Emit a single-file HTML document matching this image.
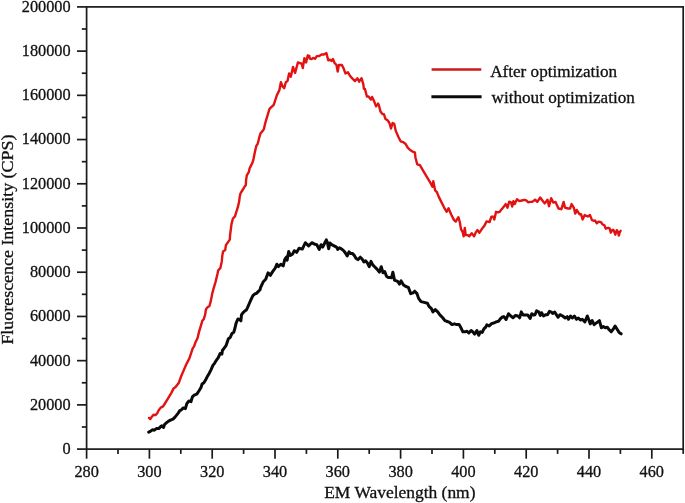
<!DOCTYPE html>
<html><head><meta charset="utf-8"><style>
html,body{margin:0;padding:0;background:#fff;}
body{width:685px;height:503px;overflow:hidden;}
svg{display:block;font-family:"Liberation Serif",serif;}
text{filter:grayscale(1);stroke:#111;stroke-width:0.3px;}
</style></head><body>
<svg width="685" height="503" viewBox="0 0 685 503">
<rect x="0" y="0" width="685" height="503" fill="#fff"/>
<g stroke="#1a1a1a" stroke-width="1.7" fill="none">
<rect x="86.60" y="6.90" width="596.60" height="442.20"/>
<line x1="86.60" y1="449.10" x2="86.60" y2="458.70"/><line x1="118.00" y1="449.10" x2="118.00" y2="453.90"/><line x1="149.40" y1="449.10" x2="149.40" y2="458.70"/><line x1="180.80" y1="449.10" x2="180.80" y2="453.90"/><line x1="212.20" y1="449.10" x2="212.20" y2="458.70"/><line x1="243.60" y1="449.10" x2="243.60" y2="453.90"/><line x1="275.00" y1="449.10" x2="275.00" y2="458.70"/><line x1="306.40" y1="449.10" x2="306.40" y2="453.90"/><line x1="337.80" y1="449.10" x2="337.80" y2="458.70"/><line x1="369.20" y1="449.10" x2="369.20" y2="453.90"/><line x1="400.60" y1="449.10" x2="400.60" y2="458.70"/><line x1="432.00" y1="449.10" x2="432.00" y2="453.90"/><line x1="463.40" y1="449.10" x2="463.40" y2="458.70"/><line x1="494.80" y1="449.10" x2="494.80" y2="453.90"/><line x1="526.20" y1="449.10" x2="526.20" y2="458.70"/><line x1="557.60" y1="449.10" x2="557.60" y2="453.90"/><line x1="589.00" y1="449.10" x2="589.00" y2="458.70"/><line x1="620.40" y1="449.10" x2="620.40" y2="453.90"/><line x1="651.80" y1="449.10" x2="651.80" y2="458.70"/><line x1="683.20" y1="449.10" x2="683.20" y2="453.90"/><line x1="77.00" y1="449.10" x2="86.60" y2="449.10"/><line x1="81.80" y1="426.99" x2="86.60" y2="426.99"/><line x1="77.00" y1="404.88" x2="86.60" y2="404.88"/><line x1="81.80" y1="382.77" x2="86.60" y2="382.77"/><line x1="77.00" y1="360.66" x2="86.60" y2="360.66"/><line x1="81.80" y1="338.55" x2="86.60" y2="338.55"/><line x1="77.00" y1="316.44" x2="86.60" y2="316.44"/><line x1="81.80" y1="294.33" x2="86.60" y2="294.33"/><line x1="77.00" y1="272.22" x2="86.60" y2="272.22"/><line x1="81.80" y1="250.11" x2="86.60" y2="250.11"/><line x1="77.00" y1="228.00" x2="86.60" y2="228.00"/><line x1="81.80" y1="205.89" x2="86.60" y2="205.89"/><line x1="77.00" y1="183.78" x2="86.60" y2="183.78"/><line x1="81.80" y1="161.67" x2="86.60" y2="161.67"/><line x1="77.00" y1="139.56" x2="86.60" y2="139.56"/><line x1="81.80" y1="117.45" x2="86.60" y2="117.45"/><line x1="77.00" y1="95.34" x2="86.60" y2="95.34"/><line x1="81.80" y1="73.23" x2="86.60" y2="73.23"/><line x1="77.00" y1="51.12" x2="86.60" y2="51.12"/><line x1="81.80" y1="29.01" x2="86.60" y2="29.01"/><line x1="77.00" y1="6.90" x2="86.60" y2="6.90"/>
</g>
<g font-size="16.3" fill="#111">
<text x="86.60" y="477.0" text-anchor="middle">280</text><text x="149.40" y="477.0" text-anchor="middle">300</text><text x="212.20" y="477.0" text-anchor="middle">320</text><text x="275.00" y="477.0" text-anchor="middle">340</text><text x="337.80" y="477.0" text-anchor="middle">360</text><text x="400.60" y="477.0" text-anchor="middle">380</text><text x="463.40" y="477.0" text-anchor="middle">400</text><text x="526.20" y="477.0" text-anchor="middle">420</text><text x="589.00" y="477.0" text-anchor="middle">440</text><text x="651.80" y="477.0" text-anchor="middle">460</text>
<text x="70.6" y="454.00" text-anchor="end">0</text><text x="70.6" y="409.78" text-anchor="end">20000</text><text x="70.6" y="365.56" text-anchor="end">40000</text><text x="70.6" y="321.34" text-anchor="end">60000</text><text x="70.6" y="277.12" text-anchor="end">80000</text><text x="70.6" y="232.90" text-anchor="end">100000</text><text x="70.6" y="188.68" text-anchor="end">120000</text><text x="70.6" y="144.46" text-anchor="end">140000</text><text x="70.6" y="100.24" text-anchor="end">160000</text><text x="70.6" y="56.02" text-anchor="end">180000</text><text x="70.6" y="11.80" text-anchor="end">200000</text>
</g>
<text x="324.2" y="498.3" font-size="16.6" fill="#111" textLength="151.3" lengthAdjust="spacingAndGlyphs">EM Wavelength (nm)</text>
<text transform="translate(13.2,344.6) rotate(-90)" font-size="16.6" fill="#111" textLength="210" lengthAdjust="spacingAndGlyphs">Fluorescence Intensity (CPS)</text>
<path d="M149.1,417.9 L150.3,419.1 L151.9,416.7 L153.5,414.7 L155.5,415.1 L157.1,413.5 L158.7,410.3 L160.7,407.6 L163.1,406.4 L165.2,403.0 L167.3,399.6 L169.4,396.1 L171.5,392.6 L173.6,388.4 L175.6,387.0 L177.7,384.2 L179.1,382.2 L180.5,378.0 L181.9,374.5 L184.0,369.6 L186.1,364.7 L188.2,360.6 L189.2,358.9 L191.3,352.6 L192.7,348.4 L194.1,346.4 L195.5,342.2 L197.5,338.3 L198.9,332.4 L200.3,327.6 L202.4,320.6 L203.8,319.2 L205.2,314.4 L205.9,309.5 L207.3,307.4 L209.4,306.0 L210.8,301.1 L212.0,294.7 L213.4,289.1 L215.5,282.1 L217.5,273.8 L218.2,270.3 L220.3,268.2 L221.7,261.9 L222.4,255.0 L223.1,251.5 L225.2,250.1 L225.9,245.2 L227.3,243.1 L229.8,239.6 L230.1,234.8 L230.8,229.5 L231.5,224.1 L232.9,218.5 L235.0,216.4 L236.4,211.6 L237.8,207.4 L239.1,201.8 L239.8,196.2 L240.5,193.4 L242.6,190.0 L244.7,186.5 L245.8,185.1 L246.1,180.2 L246.8,175.3 L248.9,171.8 L249.6,168.4 L251.0,165.6 L252.4,162.8 L253.5,159.1 L254.9,152.1 L256.3,145.9 L257.7,143.8 L259.1,138.2 L260.5,133.3 L262.5,131.2 L263.9,129.1 L265.3,122.9 L267.4,115.9 L269.5,108.9 L271.6,106.8 L273.7,104.8 L275.1,100.6 L276.5,96.4 L277.1,94.7 L279.3,90.4 L280.9,82.2 L282.6,86.5 L284.2,88.2 L285.8,82.2 L287.5,81.1 L289.1,73.4 L290.8,76.7 L293.0,66.9 L295.1,72.9 L297.9,62.5 L299.5,63.0 L301.7,63.6 L302.8,68.0 L304.4,58.1 L306.1,62.5 L307.7,55.4 L309.3,55.9 L309.7,58.5 L311.5,59.1 L313.2,57.9 L315.0,58.8 L316.8,56.1 L319.2,56.1 L321.6,54.5 L324.0,54.5 L326.4,53.1 L328.2,60.3 L329.9,59.7 L331.7,60.9 L332.9,59.1 L334.7,63.2 L336.5,65.0 L337.7,71.6 L338.9,65.0 L341.9,65.0 L343.7,68.6 L345.4,73.4 L347.8,72.2 L349.6,75.2 L352.0,78.2 L355.0,81.1 L357.4,78.2 L359.2,81.7 L361.5,78.2 L363.3,84.1 L363.9,88.9 L364.9,88.9 L366.9,96.5 L368.5,96.5 L370.9,99.6 L372.1,96.9 L374.1,101.2 L376.1,106.4 L378.1,103.6 L378.9,105.2 L380.5,111.6 L382.4,114.0 L383.9,114.2 L385.5,119.0 L387.9,120.6 L389.4,123.0 L391.0,128.5 L392.6,123.0 L394.2,123.8 L395.8,130.9 L398.2,136.5 L400.6,141.3 L403.0,142.1 L405.4,143.7 L407.7,147.6 L410.1,150.0 L412.5,151.6 L414.9,152.4 L415.4,157.2 L417.2,164.3 L419.9,165.2 L422.5,169.7 L425.2,174.2 L427.9,178.7 L430.6,183.1 L432.4,186.7 L433.3,181.3 L435.1,190.3 L436.9,192.1 L438.7,196.6 L441.3,201.9 L444.0,207.3 L446.7,211.8 L448.5,208.2 L451.2,214.5 L453.9,219.9 L455.7,221.6 L458.4,217.2 L459.8,222.0 L461.0,229.1 L462.7,232.1 L463.6,236.3 L464.8,227.9 L465.7,235.1 L467.5,235.1 L469.3,236.3 L471.7,233.3 L474.1,236.3 L475.9,232.1 L477.4,230.1 L479.4,232.7 L481.8,229.1 L484.2,226.1 L486.6,221.4 L489.6,222.0 L491.4,216.6 L493.2,216.6 L494.3,219.6 L496.1,211.8 L497.9,212.4 L499.7,211.8 L501.5,209.4 L503.9,206.5 L505.7,204.1 L507.5,207.7 L509.2,201.7 L511.0,202.3 L512.2,206.5 L513.4,201.1 L514.6,204.1 L517.0,199.3 L519.4,201.1 L521.8,200.5 L524.2,199.9 L526.5,200.5 L528.3,202.3 L530.0,201.9 L532.2,201.9 L535.1,199.7 L537.3,201.9 L540.2,197.5 L542.4,200.4 L544.6,203.4 L547.5,199.7 L549.0,206.3 L551.2,198.2 L553.4,202.6 L555.5,201.9 L558.5,208.5 L561.4,209.2 L563.6,201.9 L565.0,207.7 L568.0,208.5 L570.1,208.5 L571.6,204.1 L573.8,207.7 L575.3,213.6 L576.7,209.9 L579.6,214.3 L581.1,214.3 L582.6,219.4 L584.7,215.0 L587.7,216.5 L589.9,215.0 L592.0,220.1 L594.2,220.9 L595.0,220.4 L596.8,223.3 L598.6,221.6 L601.0,222.2 L602.7,224.5 L604.5,225.4 L605.7,228.7 L608.1,227.8 L609.6,228.4 L610.8,232.6 L612.3,229.9 L613.5,229.9 L615.3,234.7 L616.8,230.2 L618.0,232.0 L618.8,235.6 L619.7,232.3 L620.6,230.8" fill="none" stroke="#e31212" stroke-width="2.4" stroke-linejoin="round" stroke-linecap="round"/>
<path d="M148.7,432.2 L150.3,431.4 L152.3,429.8 L154.3,430.2 L156.3,428.6 L158.7,428.6 L160.7,426.6 L161.9,425.8 L163.5,427.4 L164.7,424.3 L166.6,422.7 L168.6,421.1 L171.0,419.9 L173.0,419.1 L175.0,417.1 L176.6,415.1 L178.2,413.1 L179.8,410.7 L181.2,410.0 L183.3,407.9 L185.4,408.6 L186.8,403.7 L188.9,401.0 L191.0,401.7 L192.4,396.8 L194.2,395.2 L196.8,394.1 L199.2,390.5 L201.0,387.5 L202.1,384.0 L203.9,382.8 L205.7,379.8 L207.5,376.2 L209.3,373.2 L211.1,369.6 L212.9,365.4 L214.7,363.1 L216.5,360.1 L218.3,357.7 L220.1,353.5 L221.9,354.1 L222.4,350.5 L224.2,348.1 L226.0,345.7 L227.2,342.2 L228.4,338.7 L230.2,337.5 L232.0,333.4 L233.8,332.2 L235.0,328.0 L236.1,323.2 L237.9,319.0 L239.7,319.6 L240.9,320.8 L241.5,314.9 L242.7,313.1 L244.5,311.3 L246.3,310.1 L247.5,307.7 L249.3,303.5 L251.1,299.3 L252.9,295.7 L254.7,294.0 L256.4,293.4 L258.2,291.6 L260.0,289.8 L260.6,287.4 L261.8,285.0 L263.3,281.7 L265.7,279.3 L268.1,272.9 L270.4,275.3 L272.8,271.4 L275.2,268.2 L276.8,264.2 L278.4,266.6 L280.8,264.2 L283.2,265.8 L284.8,259.4 L286.4,257.0 L287.1,260.2 L288.7,251.5 L290.3,255.4 L292.7,253.9 L294.3,250.7 L296.7,252.3 L299.1,248.3 L302.3,249.1 L305.4,242.7 L308.6,245.9 L311.8,242.7 L315.0,244.3 L316.8,244.7 L319.2,249.4 L321.0,244.7 L322.7,247.1 L324.5,243.5 L326.3,239.9 L327.5,242.9 L328.7,248.8 L329.9,242.9 L331.7,244.7 L334.1,245.9 L336.5,247.1 L337.7,249.4 L339.4,247.7 L341.2,248.8 L343.6,250.6 L345.4,253.0 L347.2,256.0 L349.0,251.8 L350.8,253.6 L352.6,253.6 L354.3,255.4 L356.1,258.4 L357.9,259.6 L360.3,257.2 L362.1,259.0 L363.9,262.0 L365.7,260.8 L367.5,263.2 L369.2,266.7 L371.0,261.4 L372.8,264.9 L374.6,266.7 L377.0,269.1 L379.4,272.1 L381.2,266.7 L383.0,272.7 L384.7,271.5 L386.5,276.3 L388.3,277.5 L390.1,277.5 L391.6,277.7 L392.9,272.2 L394.5,280.1 L396.4,280.9 L398.0,281.7 L399.5,284.1 L401.1,280.9 L403.5,284.9 L405.9,286.5 L408.3,287.3 L410.7,293.6 L413.1,292.8 L414.7,291.2 L417.0,293.6 L418.6,298.4 L421.0,301.6 L424.2,302.4 L427.4,303.2 L429.0,306.4 L431.4,308.7 L432.9,311.9 L435.3,309.5 L437.7,311.9 L440.1,315.1 L442.5,317.5 L444.9,320.7 L447.3,321.5 L449.6,322.3 L452.0,324.6 L454.4,323.8 L456.8,324.6 L459.2,324.6 L461.2,328.3 L462.9,331.8 L465.3,331.8 L467.0,331.2 L468.8,333.0 L471.1,330.6 L472.8,331.8 L474.6,334.1 L476.9,330.6 L478.7,335.3 L480.4,331.8 L482.2,332.4 L483.9,328.9 L485.7,327.1 L486.9,324.8 L489.2,326.0 L491.5,323.6 L493.9,323.0 L496.2,321.9 L498.5,321.3 L500.3,318.9 L502.0,317.2 L503.8,316.6 L506.1,319.5 L508.5,313.7 L510.8,316.0 L513.1,317.8 L515.5,315.4 L517.8,316.0 L519.6,317.8 L521.3,311.9 L523.1,314.9 L525.4,314.9 L527.7,314.9 L530.1,318.4 L531.8,313.7 L533.6,314.9 L535.0,314.7 L536.6,310.8 L538.9,312.1 L540.3,315.4 L541.6,312.7 L543.5,316.0 L545.5,314.7 L547.5,314.7 L549.5,311.4 L551.4,312.1 L552.7,313.4 L554.7,312.1 L556.0,314.1 L558.0,317.3 L560.0,314.7 L562.6,316.0 L565.2,318.0 L567.2,316.7 L568.5,319.3 L570.5,316.0 L572.4,318.0 L574.4,316.0 L576.4,319.3 L578.4,318.0 L580.3,320.0 L582.3,319.3 L584.9,321.9 L587.3,316.0 L588.9,320.0 L590.2,323.9 L592.2,320.6 L594.1,324.6 L596.8,322.6 L599.4,320.6 L601.4,327.8 L603.3,326.5 L605.3,327.8 L607.3,327.2 L609.2,329.8 L611.2,331.8 L613.2,329.2 L615.1,326.0 L617.1,329.2 L619.1,332.4 L621.1,333.8" fill="none" stroke="#0a0a0a" stroke-width="3.0" stroke-linejoin="round" stroke-linecap="round"/>
<line x1="431.6" y1="69.5" x2="481.3" y2="69.5" stroke="#d01818" stroke-width="2.4"/>
<line x1="431.4" y1="96.7" x2="481.6" y2="96.7" stroke="#0a0a0a" stroke-width="3.0"/>
<text x="490.2" y="77.3" font-size="16.6" fill="#111" textLength="127" lengthAdjust="spacingAndGlyphs">After optimization</text>
<text x="491.6" y="103.4" font-size="16.6" fill="#111" textLength="143.2" lengthAdjust="spacingAndGlyphs">without optimization</text>
</svg>
</body></html>
